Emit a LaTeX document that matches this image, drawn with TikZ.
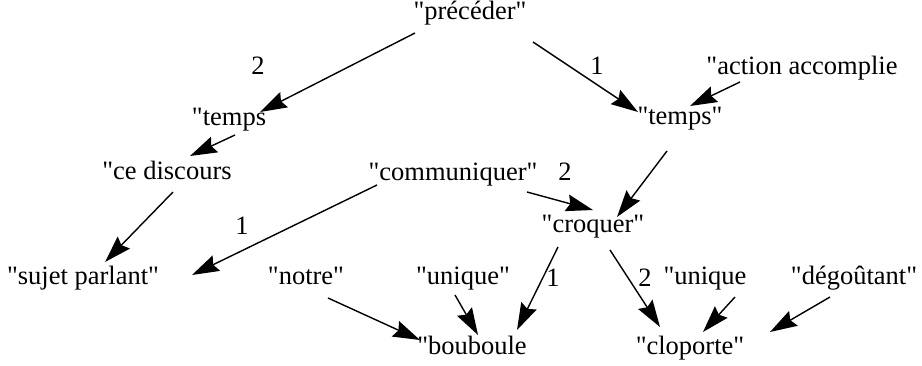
\documentclass[tikz,border=0pt]{standalone}
\usepackage{fontspec}
\setmainfont{Liberation Serif}[Ligatures=TeXOff]
\usetikzlibrary{arrows.meta,calc}

\begin{document}
\begin{tikzpicture}[x=1pt,y=-1pt,
  word/.style={inner sep=0pt, text height=0.68em, text depth=0.22em,
               font=\fontsize{26.5}{30}\selectfont},
  num/.style={word},
  arr/.style={line width=1.4pt,
              -{Stealth[length=27pt,width=17pt,inset=3.5pt]}}]
\useasboundingbox (0,0) rectangle (922,366);

% concept nodes
\node[word] (prec)    at (470,17)  {"précéder"};
\node[word] (tempsL)  at (229,123) {"temps};
\node[word] (tempsR)  at (680,122) {"temps"};
\node[word] (action)  at (802,72)  {"action accomplie};
\node[word] (ceD)     at (167,177) {"ce discours};
\node[word] (comm)    at (453,178) {"communiquer"};
\node[word] (croq)    at (593,230) {"croquer"};
\node[word] (sujet)   at (83,282)  {"sujet parlant"};
\node[word] (notre)   at (306,282) {"notre"};
\node[word] (uniqL)   at (463,282) {"unique"};
\node[word] (uniqR)   at (705,282) {"unique};
\node[word] (dego)    at (854,282) {"dégoûtant"};
\node[word] (boub)    at (472,352) {"bouboule};
\node[word] (clop)    at (690,352) {"cloporte"};

% argument numbers
\node[num] (n1) at (258,72)  {2};
\node[num] (n2) at (597,72)  {1};
\node[num] (n3) at (565,178) {2};
\node[num] (n4) at (242,232) {1};
\node[num] (n5) at (553,284) {1};
\node[num] (n6) at (645,284) {2};

% relations
\draw[arr] ($(prec)+(-55,16)$)   -- ($(tempsL)+(31,-11)$);
\draw[arr] ($(prec)+(63,25)$)    -- ($(tempsR)+(-42,-10)$);
\draw[arr] ($(action)+(-62,10)$) -- ($(tempsR)+(10,-16)$);
\draw[arr] ($(tempsL)+(6,12)$)   -- ($(ceD)+(23,-21)$);
\draw[arr] ($(ceD)+(6,15)$)      -- ($(sujet)+(22,-20)$);
\draw[arr] ($(comm)+(-76,7)$)    -- ($(sujet)+(109,-7)$);
\draw[arr] ($(comm)+(74,14)$)    -- ($(croq)+(0,-20)$);
\draw[arr] ($(tempsR)+(-13,29)$) -- ($(croq)+(24,-13)$);
\draw[arr] ($(croq)+(-35,17)$)   -- ($(boub)+(45,-22)$);
\draw[arr] ($(croq)+(17,20)$)    -- ($(clop)+(-30,-25)$);
\draw[arr] ($(notre)+(22,16)$)   -- ($(boub)+(-52,-12)$);
\draw[arr] ($(uniqL)+(-8,13)$)   -- ($(boub)+(6,-17)$);
\draw[arr] ($(uniqR)+(30,15)$)   -- ($(clop)+(13,-20)$);
\draw[arr] ($(dego)+(-24,15)$)   -- ($(clop)+(80,-20)$);
\end{tikzpicture}
\end{document}
